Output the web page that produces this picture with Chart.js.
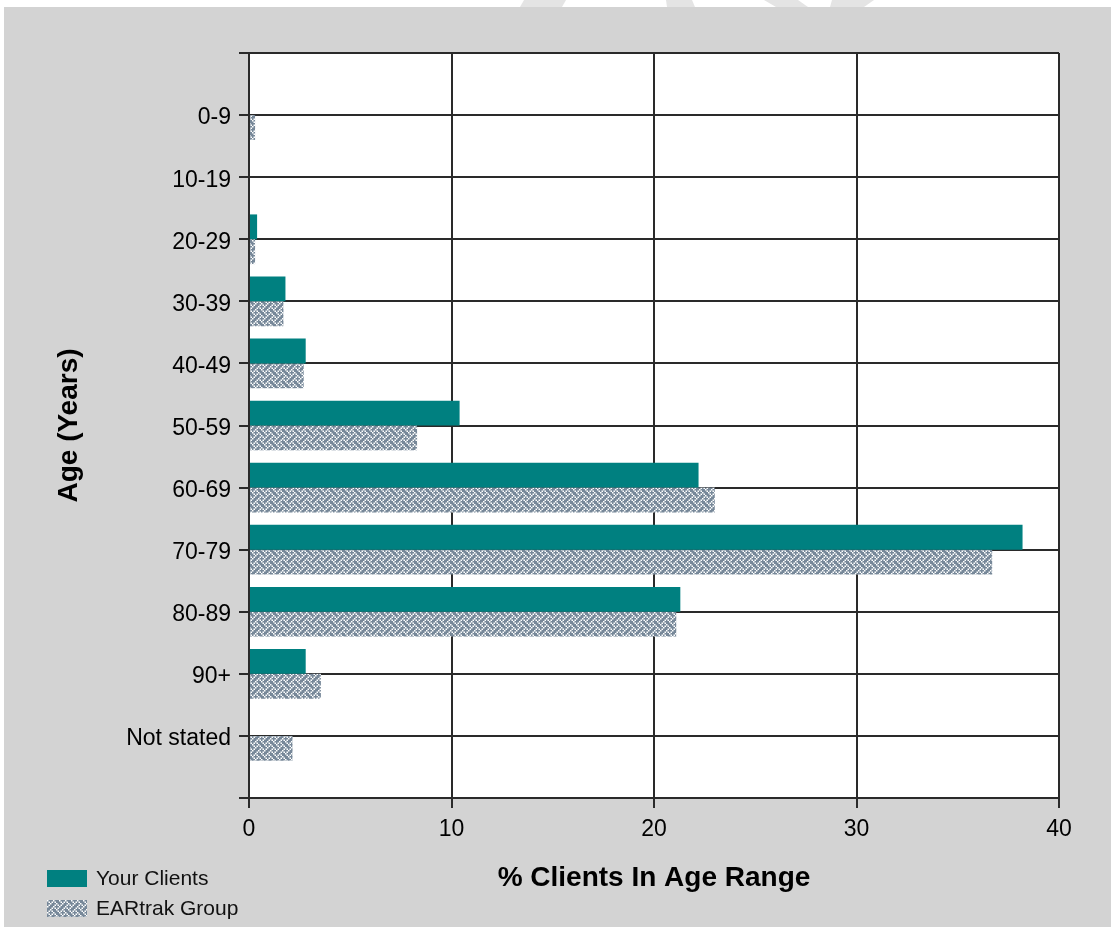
<!DOCTYPE html>
<html>
<head>
<meta charset="utf-8">
<script src="https://cdn.jsdelivr.net/npm/chart.js@4.4.1/dist/chart.umd.min.js"></script>
<style>
  html, body { margin: 0; padding: 0; background: #fff; }
  #wrap { position: relative; width: 1111px; height: 927px; }
  .legend { position: absolute; left: 47px; top: 863px; font-family: "Liberation Sans", Arial, sans-serif; font-size: 21px; color: #111; }
  .legend .item { display: flex; align-items: center; height: 30px; }
  .legend .sw { width: 40px; height: 17px; margin-right: 9px; }
</style>
</head>
<body>
<div id="wrap">
  <canvas id="ageChart" width="1111" height="927"></canvas>
  <div class="legend">
    <div class="item"><div class="sw" id="swClients"></div><span>Your Clients</span></div>
    <div class="item"><div class="sw" id="swGroup"></div><span>EARtrak Group</span></div>
  </div>
</div>
<script>
  // age ranges (y axis) and values (% of clients)
  const ageGroups = ['0-9', '10-19', '20-29', '30-39', '40-49', '50-59', '60-69', '70-79', '80-89', '90+', 'Not stated'];
  const yourClients = [0, 0, 0.4, 1.8, 2.8, 10.4, 22.2, 38.2, 21.3, 2.8, 0];
  const eartrakGroup = [0.3, 0, 0.3, 1.7, 2.7, 8.3, 23.0, 36.7, 21.1, 3.55, 2.15];
  const xTicks = [0, 10, 20, 30, 40];

  const teal = '#008080';
  const lineCol = '#2a2a2a';

  // weave hatch (lightslategray on white)
  function makeWeave() {
    const bits = [0x88, 0x54, 0x22, 0x45, 0x88, 0x15, 0x22, 0x51];
    const c = document.createElement('canvas');
    c.width = 12; c.height = 12;
    const g = c.getContext('2d');
    g.fillStyle = '#778899';
    g.fillRect(0, 0, 12, 12);
    g.fillStyle = '#ffffff';
    for (let r = 0; r < 8; r++) {
      for (let k = 0; k < 8; k++) {
        if (bits[r] & (0x80 >> k)) g.fillRect(k * 1.5, r * 1.5, 1.5, 1.5);
      }
    }
    return c;
  }
  const weaveTile = makeWeave();
  const ctx = document.getElementById('ageChart').getContext('2d');
  const weave = ctx.createPattern(weaveTile, 'repeat');

  document.getElementById('swClients').style.background = teal;
  document.getElementById('swGroup').style.backgroundImage = 'url(' + weaveTile.toDataURL() + ')';

  // empty slot above and below so the grid has a free row at both ends
  const labels = [''].concat(ageGroups, ['']);
  const pad = arr => [null].concat(arr, [null]);

  Chart.defaults.font.family = '"Liberation Sans", Arial, sans-serif';
  Chart.defaults.color = '#000';

  const background = {
    id: 'background',
    beforeDraw(chart) {
      const c = chart.ctx;
      const a = chart.chartArea;
      c.save();
      c.fillStyle = '#ffffff';
      c.fillRect(0, 0, chart.width, chart.height);
      // faint watermark edges in the top strip
      c.fillStyle = '#e4e4e4';
      [[[524, 0], [566, 0], [562, 7], [520, 7]],
       [[666, 0], [692, 0], [695, 7], [667, 7]],
       [[764, 0], [798, 0], [808, 7], [776, 7]],
       [[832, 0], [874, 0], [864, 7], [830, 7]]].forEach(p => {
        c.beginPath();
        c.moveTo(p[0][0], p[0][1]);
        p.slice(1).forEach(q => c.lineTo(q[0], q[1]));
        c.closePath();
        c.fill();
      });
      c.fillStyle = '#d3d3d3';
      c.fillRect(4, 7, chart.width - 4, chart.height - 7);
      c.fillStyle = '#ffffff';
      c.fillRect(a.left, a.top, a.right - a.left, a.bottom - a.top);
      c.restore();
    }
  };

  new Chart(ctx, {
    type: 'bar',
    data: {
      labels: labels,
      datasets: [
        {
          label: 'Your Clients',
          data: pad(yourClients),
          backgroundColor: teal,
          borderWidth: 0
        },
        {
          label: 'EARtrak Group',
          data: pad(eartrakGroup),
          backgroundColor: weave,
          borderWidth: 0
        }
      ]
    },
    options: {
      indexAxis: 'y',
      responsive: false,
      animation: false,
      categoryPercentage: 0.8,
      barPercentage: 1.0,
      layout: {
        padding: { top: 53, right: 52, bottom: 0, left: 0 }
      },
      plugins: {
        legend: { display: false },
        tooltip: { enabled: false }
      },
      scales: {
        x: {
          type: 'linear',
          min: 0,
          max: 40,
          afterBuildTicks: s => { s.ticks = xTicks.map(v => ({ value: v })); },
          afterFit: s => { s.height = 927 - 798; },
          ticks: { font: { size: 23 }, padding: 8, color: '#000' },
          grid: { color: lineCol, lineWidth: 2, tickLength: 10 },
          border: { color: lineCol, width: 2 },
          title: {
            display: true,
            text: '% Clients In Age Range',
            font: { size: 28, weight: 'bold' },
            color: '#000',
            padding: { top: 0, bottom: 32 }
          }
        },
        y: {
          type: 'category',
          offset: false,
          afterFit: s => { s.width = 249; },
          ticks: { font: { size: 23, lineHeight: 1.0 }, padding: 8, labelOffset: 3, color: '#000', autoSkip: false },
          grid: { color: lineCol, lineWidth: 2, tickLength: 10, offset: false },
          border: { color: lineCol, width: 2 },
          title: {
            display: true,
            text: 'Age (Years)',
            font: { size: 28, weight: 'bold' },
            color: '#000',
            padding: { top: 52, bottom: 0 }
          }
        }
      }
    },
    plugins: [background]
  });
</script>
</body>
</html>
